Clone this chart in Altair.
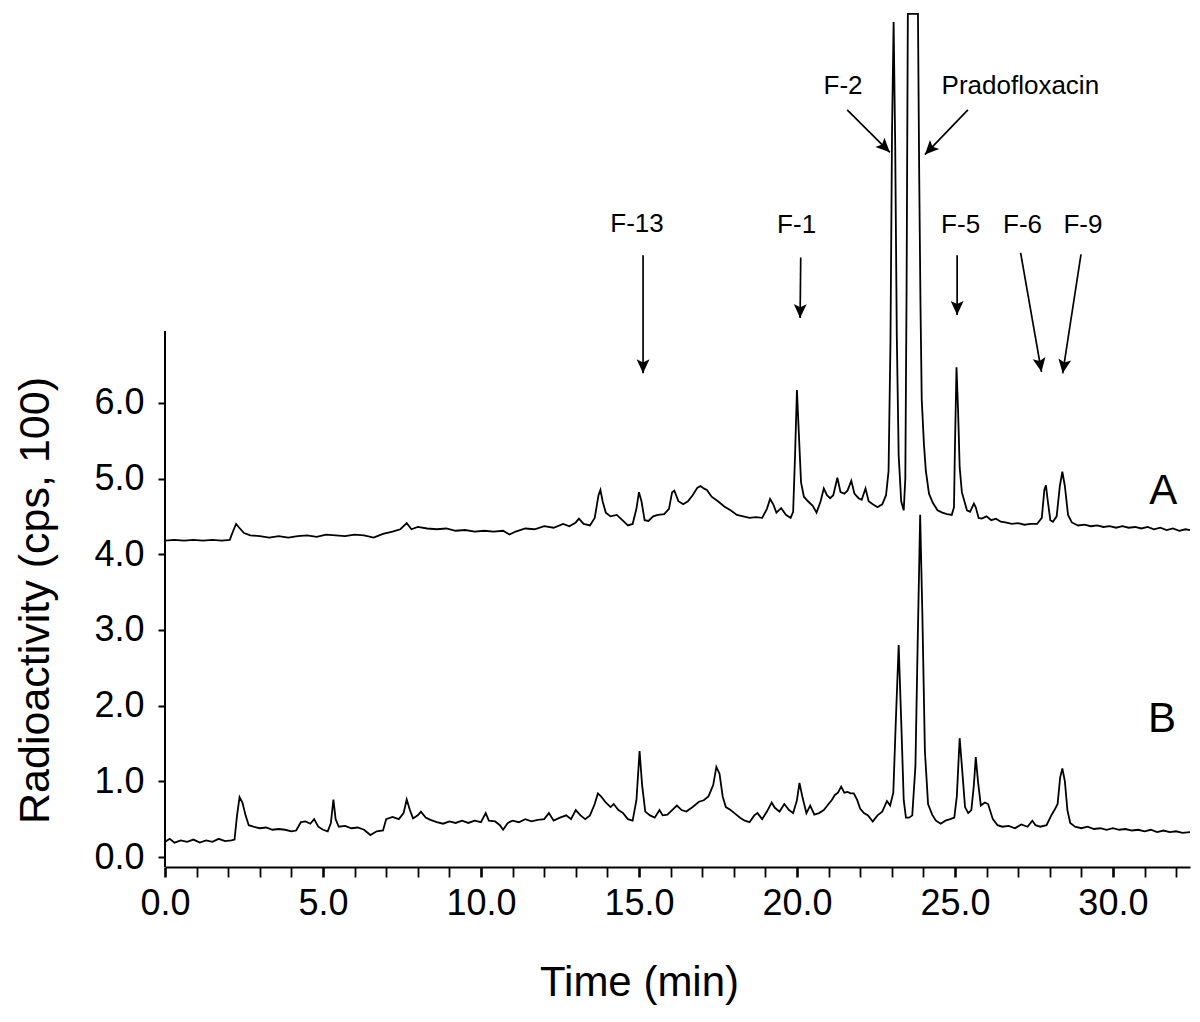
import math
import altair as alt
import pandas as pd

# ---------------- data ----------------
time_a = [0.0, 0.3, 0.6, 0.9, 1.2, 1.5, 1.8, 2.05, 2.15, 2.25, 2.35, 2.5, 2.7, 3.0, 3.3, 3.6, 3.9,
          4.2, 4.5, 4.8, 5.1, 5.4, 5.7, 6.0, 6.3, 6.6, 6.9, 7.2, 7.45, 7.65, 7.8, 8.0, 8.3, 8.6,
          8.9, 9.2, 9.5, 9.8, 10.1, 10.4, 10.7, 10.9, 11.1, 11.4, 11.7, 12.0, 12.3, 12.6, 12.8,
          13.0, 13.1, 13.25, 13.45, 13.6, 13.72, 13.78, 13.85, 13.95, 14.1, 14.3, 14.5, 14.65,
          14.8, 14.92, 15.0, 15.08, 15.18, 15.3, 15.45, 15.6, 15.8, 15.95, 16.05, 16.12, 16.25,
          16.4, 16.55, 16.7, 16.85, 16.95, 17.05, 17.15, 17.3, 17.5, 17.7, 17.9, 18.1, 18.3,
          18.5, 18.7, 18.9, 19.05, 19.15, 19.25, 19.35, 19.5, 19.65, 19.8, 19.88, 19.94, 20.0,
          20.06, 20.13, 20.22, 20.35, 20.5, 20.62, 20.75, 20.85, 20.95, 21.05, 21.15, 21.28,
          21.38, 21.5, 21.6, 21.72, 21.82, 21.95, 22.05, 22.17, 22.27, 22.4, 22.55, 22.7, 22.82,
          22.9, 22.96, 23.01, 23.06, 23.11, 23.16, 23.22, 23.3, 23.38, 23.43, 23.47, 23.51,
          23.83, 23.87, 23.91, 23.95, 24.02, 24.08, 24.18, 24.3, 24.45, 24.6, 24.75, 24.9,
          24.97, 25.0, 25.05, 25.1, 25.15, 25.22, 25.3, 25.38, 25.48, 25.6, 25.66, 25.75,
          25.85, 26.0, 26.15, 26.3, 26.45, 26.6, 26.8, 27.0, 27.2, 27.4, 27.6, 27.75, 27.83,
          27.88, 27.94, 28.02, 28.1, 28.22, 28.32, 28.4, 28.48, 28.58, 28.7, 28.9, 29.1, 29.3,
          29.5, 29.7, 29.9, 30.1, 30.3, 30.5, 30.7, 30.9, 31.1, 31.3, 31.5, 31.7, 31.9, 32.1,
          32.3, 32.44]
value_a = [4.18, 4.19, 4.18, 4.19, 4.18, 4.19, 4.18, 4.19, 4.30, 4.40, 4.35, 4.28, 4.25, 4.24,
           4.22, 4.24, 4.22, 4.24, 4.25, 4.23, 4.26, 4.25, 4.24, 4.26, 4.25, 4.22, 4.27, 4.30,
           4.33, 4.41, 4.33, 4.36, 4.34, 4.33, 4.34, 4.31, 4.32, 4.30, 4.31, 4.30, 4.31, 4.26,
           4.30, 4.34, 4.33, 4.37, 4.35, 4.40, 4.37, 4.42, 4.47, 4.40, 4.38, 4.48, 4.78, 4.85,
           4.70, 4.55, 4.50, 4.52, 4.44, 4.38, 4.40, 4.60, 4.82, 4.70, 4.45, 4.44, 4.50, 4.52,
           4.53, 4.60, 4.82, 4.84, 4.70, 4.66, 4.70, 4.78, 4.88, 4.90, 4.87, 4.85, 4.76, 4.70,
           4.63, 4.58, 4.52, 4.50, 4.48, 4.49, 4.48, 4.60, 4.73, 4.66, 4.55, 4.61, 4.52, 4.48,
           4.56, 5.30, 6.17, 5.60, 4.95, 4.76, 4.70, 4.64, 4.55, 4.70, 4.87, 4.78, 4.74, 4.78,
           5.01, 4.82, 4.80, 4.84, 4.97, 4.80, 4.74, 4.72, 4.87, 4.70, 4.66, 4.62, 4.66, 4.78,
           5.10, 6.80, 9.60, 11.03, 9.40, 6.90, 5.30, 4.70, 4.58, 5.00, 7.50, 11.14, 11.14,
           9.00, 7.30, 6.04, 5.45, 5.10, 4.80, 4.68, 4.58, 4.55, 4.53, 4.52, 4.62, 5.40, 6.47,
           5.90, 5.15, 4.82, 4.70, 4.58, 4.56, 4.67, 4.62, 4.48, 4.47, 4.50, 4.45, 4.47, 4.43,
           4.42, 4.40, 4.41, 4.39, 4.40, 4.40, 4.48, 4.85, 4.91, 4.70, 4.45, 4.43, 4.50, 4.90,
           5.09, 4.90, 4.52, 4.42, 4.38, 4.39, 4.37, 4.38, 4.36, 4.37, 4.35, 4.37, 4.35, 4.36,
           4.34, 4.36, 4.33, 4.35, 4.32, 4.34, 4.31, 4.33, 4.32]

time_b = [0.0, 0.15, 0.3, 0.5, 0.7, 0.9, 1.1, 1.3, 1.5, 1.7, 1.9, 2.1, 2.2, 2.28, 2.36, 2.45,
          2.55, 2.65, 2.8, 3.0, 3.2, 3.4, 3.6, 3.8, 4.0, 4.15, 4.3, 4.45, 4.6, 4.72, 4.85, 5.0,
          5.15, 5.25, 5.33, 5.4, 5.5, 5.7, 5.9, 6.1, 6.3, 6.5, 6.7, 6.9, 7.0, 7.2, 7.4, 7.55,
          7.65, 7.75, 7.85, 8.0, 8.1, 8.25, 8.4, 8.6, 8.8, 9.0, 9.2, 9.4, 9.6, 9.8, 10.0, 10.15,
          10.25, 10.45, 10.6, 10.7, 10.85, 11.0, 11.2, 11.4, 11.6, 11.8, 12.0, 12.15, 12.3,
          12.5, 12.7, 12.85, 13.0, 13.15, 13.3, 13.45, 13.6, 13.7, 13.8, 13.95, 14.1, 14.2,
          14.35, 14.5, 14.65, 14.8, 14.92, 15.02, 15.1, 15.2, 15.35, 15.5, 15.65, 15.75, 15.9,
          16.05, 16.2, 16.35, 16.5, 16.7, 16.9, 17.05, 17.2, 17.35, 17.45, 17.55, 17.65, 17.75,
          17.9, 18.05, 18.2, 18.35, 18.5, 18.65, 18.75, 18.9, 19.05, 19.2, 19.3, 19.45, 19.6,
          19.75, 19.88, 20.0, 20.08, 20.17, 20.3, 20.42, 20.55, 20.7, 20.85, 21.0, 21.1, 21.2,
          21.3, 21.4, 21.5, 21.6, 21.7, 21.8, 21.9, 22.0, 22.12, 22.25, 22.4, 22.55, 22.7,
          22.85, 22.95, 23.05, 23.13, 23.22, 23.3, 23.38, 23.45, 23.55, 23.65, 23.75, 23.82,
          23.9, 23.97, 24.05, 24.15, 24.28, 24.4, 24.55, 24.7, 24.85, 24.98, 25.06, 25.15,
          25.23, 25.32, 25.42, 25.52, 25.6, 25.66, 25.73, 25.82, 25.95, 26.05, 26.2, 26.35,
          26.5, 26.7, 26.9, 27.1, 27.3, 27.45, 27.55, 27.7, 27.9, 28.05, 28.15, 28.25, 28.33,
          28.4, 28.48, 28.56, 28.65, 28.8, 29.0, 29.2, 29.4, 29.6, 29.8, 30.0, 30.2, 30.4,
          30.6, 30.8, 31.0, 31.2, 31.4, 31.6, 31.8, 32.0, 32.2, 32.44]
value_b = [0.20, 0.24, 0.19, 0.22, 0.20, 0.23, 0.19, 0.22, 0.20, 0.24, 0.21, 0.22, 0.23, 0.55,
           0.79, 0.72, 0.55, 0.42, 0.40, 0.38, 0.39, 0.36, 0.37, 0.36, 0.34, 0.35, 0.46, 0.47,
           0.44, 0.50, 0.40, 0.36, 0.34, 0.45, 0.76, 0.50, 0.40, 0.41, 0.38, 0.39, 0.36, 0.29,
           0.34, 0.35, 0.50, 0.53, 0.50, 0.58, 0.76, 0.62, 0.51, 0.55, 0.60, 0.52, 0.49, 0.46,
           0.44, 0.47, 0.45, 0.48, 0.45, 0.48, 0.46, 0.58, 0.48, 0.47, 0.42, 0.36, 0.45, 0.48,
           0.46, 0.50, 0.47, 0.49, 0.50, 0.58, 0.48, 0.52, 0.55, 0.50, 0.62, 0.55, 0.50, 0.55,
           0.70, 0.84, 0.80, 0.72, 0.66, 0.70, 0.62, 0.58, 0.50, 0.48, 0.75, 1.40, 0.95, 0.60,
           0.55, 0.52, 0.62, 0.55, 0.56, 0.62, 0.68, 0.62, 0.60, 0.66, 0.73, 0.75, 0.80, 0.95,
           1.19, 1.10, 0.80, 0.66, 0.62, 0.57, 0.52, 0.48, 0.46, 0.55, 0.58, 0.50, 0.60, 0.72,
           0.65, 0.60, 0.70, 0.62, 0.58, 0.75, 0.98, 0.80, 0.58, 0.68, 0.56, 0.58, 0.62, 0.70,
           0.75, 0.82, 0.85, 0.93, 0.85, 0.86, 0.84, 0.84, 0.76, 0.64, 0.58, 0.55, 0.47, 0.55,
           0.60, 0.74, 0.68, 0.85, 1.80, 2.80, 1.80, 0.75, 0.52, 0.52, 0.55, 1.20, 2.80, 4.52,
           3.20, 1.40, 0.70, 0.56, 0.48, 0.44, 0.48, 0.50, 0.52, 0.80, 1.57, 1.15, 0.66, 0.58,
           0.62, 0.95, 1.32, 1.00, 0.68, 0.72, 0.70, 0.50, 0.42, 0.40, 0.41, 0.38, 0.43, 0.40,
           0.48, 0.42, 0.40, 0.42, 0.55, 0.62, 0.70, 1.05, 1.17, 1.00, 0.62, 0.45, 0.40, 0.38,
           0.40, 0.37, 0.38, 0.36, 0.38, 0.36, 0.37, 0.35, 0.36, 0.34, 0.36, 0.33, 0.35, 0.33,
           0.34, 0.32, 0.33]

peak_names = ["F-13", "F-1", "F-2", "Pradofloxacin", "F-5", "F-6", "F-9"]
peak_label_time = [14.94, 19.99, 21.46, 27.07, 25.18, 27.14, 29.05]
peak_label_value = [8.26, 8.24, 10.08, 10.08, 8.25, 8.25, 8.25]
arrow_start_time = [15.13, 20.12, 21.59, 25.41, 25.07, 27.08, 28.99]
arrow_start_value = [7.95, 7.92, 9.87, 9.87, 7.95, 7.98, 7.96]
arrow_tip_time = [15.13, 20.10, 22.94, 24.05, 25.07, 27.74, 28.41]
arrow_tip_value = [6.39, 7.12, 9.31, 9.28, 7.16, 6.41, 6.39]

trace_names = ["A", "B"]
trace_label_time = [31.59, 31.55]
trace_label_value = [4.67, 1.65]

x_ticks = list(range(0, 33))
y_ticks = [0, 1, 2, 3, 4, 5, 6]

# ---------------- layout constants ----------------
X_MIN, X_MAX = 0.0, 32.44
Y_MIN, Y_MAX = -0.132, 11.19
Y_AXIS_TOP = 6.95
W, H = 1025, 857
PX_X = W / (X_MAX - X_MIN)
PX_Y = H / (Y_MAX - Y_MIN)
FONT = "Liberation Sans"

traces = pd.concat([
    pd.DataFrame({"t": time_a, "v": value_a, "trace": "A"}),
    pd.DataFrame({"t": time_b, "v": value_b, "trace": "B"}),
], ignore_index=True)

angles = []
for t0, v0, t1, v1 in zip(arrow_start_time, arrow_start_value, arrow_tip_time, arrow_tip_value):
    dx = (t1 - t0) * PX_X
    dy = -(v1 - v0) * PX_Y
    angles.append(math.degrees(math.atan2(-dx, dy)) % 360)

arrows = pd.DataFrame({
    "name": peak_names,
    "lt": peak_label_time, "lv": peak_label_value,
    "t0": arrow_start_time, "v0": arrow_start_value,
    "t1": arrow_tip_time, "v1": arrow_tip_value,
    "angle": angles,
})
trace_labels = pd.DataFrame({"name": trace_names, "t": trace_label_time, "v": trace_label_value})
yaxis_line = pd.DataFrame({"t": [0.0], "v0": [Y_MIN], "v1": [Y_AXIS_TOP]})

xscale = alt.Scale(domain=[X_MIN, X_MAX], nice=False, zero=False)
yscale = alt.Scale(domain=[Y_MIN, Y_MAX], nice=False, zero=False)

x_axis = alt.Axis(
    values=x_ticks,
    labelExpr="datum.value % 5 === 0 ? format(datum.value, '.1f') : ''",
    labelFont=FONT, labelFontSize=36, labelColor="black", labelPadding=9,
    labelOverlap=False, labelFlush=False,
    tickSize=10, tickColor="black",
    tickWidth={"condition": {"test": "datum.value % 5 === 0", "value": 2.6}, "value": 1.8},
    domainColor="black", domainWidth=2, grid=False,
    title="Time (min)", titleFont=FONT, titleFontSize=42, titleFontWeight="normal",
    titleColor="black", titleX=474, titleY=128, titleAlign="center",
    titleBaseline="alphabetic",
)
y_axis = alt.Axis(
    values=y_ticks, format=".1f",
    labelFont=FONT, labelFontSize=36, labelColor="black", labelPadding=14,
    tickSize=7, tickWidth=2, tickColor="black", domain=False, grid=False,
    title="Radioactivity (cps, 100)", titleFont=FONT, titleFontSize=43,
    titleFontWeight="normal", titleColor="black", titleAngle=270,
    titleX=-130, titleY=590, titleAlign="center", titleBaseline="middle",
)


def xenc(field):
    return alt.X(field, type="quantitative", scale=xscale, axis=x_axis)


def yenc(field):
    return alt.Y(field, type="quantitative", scale=yscale, axis=y_axis)


lines = alt.Chart(traces).mark_line(color="black", strokeWidth=1.8).encode(
    x=xenc("t"), y=yenc("v"), detail="trace:N", order="t:Q",
)

yline = alt.Chart(yaxis_line).mark_rule(color="black", strokeWidth=2).encode(
    x=xenc("t"), y=yenc("v0"), y2="v1:Q",
)

shafts = alt.Chart(arrows).mark_rule(color="black", strokeWidth=1.7).encode(
    x=xenc("t0"), y=yenc("v0"), x2="t1:Q", y2="v1:Q",
)

heads = alt.Chart(arrows).mark_point(
    shape="M0,0L-0.46,-1L0,-0.78L0.46,-1Z", filled=True, color="black",
    opacity=1, size=784, strokeWidth=0,
).encode(
    x=xenc("t1"), y=yenc("v1"),
    angle=alt.Angle("angle:Q", scale=None),
)

peak_text = alt.Chart(arrows).mark_text(
    font=FONT, fontSize=26, color="black", align="center", baseline="alphabetic",
).encode(
    x=xenc("lt"), y=yenc("lv"), text="name:N",
)

trace_text = alt.Chart(trace_labels).mark_text(
    font=FONT, fontSize=42, color="black", align="center", baseline="alphabetic",
).encode(
    x=xenc("t"), y=yenc("v"), text="name:N",
)

chart = alt.layer(lines, yline, shafts, heads, peak_text, trace_text).properties(
    width=W, height=H,
    autosize=alt.AutoSizeParams(type="none"),
    padding={"left": 157, "top": 2, "right": 2, "bottom": 147},
    background="white",
).configure_view(stroke=None)

chart.save("out.html", embed_options={"renderer": "svg", "actions": False})
